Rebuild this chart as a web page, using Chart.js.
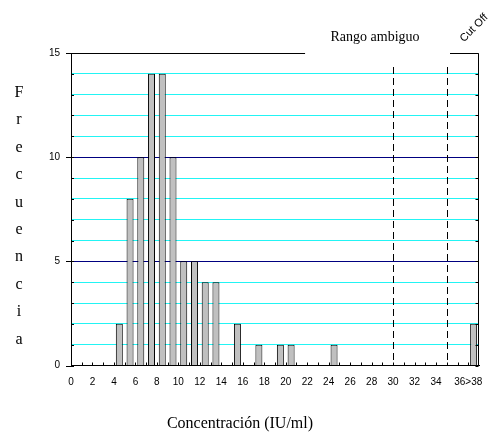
<!DOCTYPE html>
<html>
<head>
<meta charset="utf-8">
<script src="https://cdn.jsdelivr.net/npm/chart.js@4"></script>
<style>
  html, body { margin: 0; padding: 0; background: #fff; }
  #wrap { width: 488px; height: 434px; position: relative; }
</style>
</head>
<body>
<div id="wrap"><canvas id="grafico"></canvas></div>
<script>
// Clases (inicio de cada intervalo de 1 IU/ml) y frecuencias
const clases = [4, 5, 6, 7, 8, 9, 10, 11, 12, 13, 15, 17, 19, 20, 24, 37];
const frecuencias = [2, 8, 10, 14, 14, 10, 5, 5, 4, 4, 2, 1, 1, 1, 1, 2];

// Marcas del eje X y sus etiquetas
const marcasX = [0, 2, 4, 6, 8, 10, 12, 14, 16, 18, 20, 22, 24, 26, 28, 30, 32, 34, 37];
const etiquetasX = ['0', '2', '4', '6', '8', '10', '12', '14', '16', '18', '20', '22', '24', '26', '28', '30', '32', '34', '36>38'];

// Limites del rango ambiguo / cut off
const lineasCorte = [30, 35];
const tituloY = 'Frecuencia';
const tituloX = 'Concentración (IU/ml)';

const puntos = clases.map((c, i) => ({ x: c + 0.5, y: frecuencias[i] }));

const decoracion = {
    id: 'decoracion',
    afterDatasetsDraw(chart) {
        const ctx = chart.ctx;
        const x = chart.scales.x, y = chart.scales.y;
        const a = chart.chartArea;
        ctx.save();
        ctx.strokeStyle = '#000';
        ctx.lineWidth = 1;

        // lineas discontinuas
        ctx.setLineDash([7, 4]);
        lineasCorte.forEach(v => {
            const px = Math.round(x.getPixelForValue(v)) + 0.5;
            ctx.beginPath();
            ctx.moveTo(px, a.top + 14);
            ctx.lineTo(px, a.bottom);
            ctx.stroke();
        });
        ctx.setLineDash([]);

        // borde superior (con hueco para el texto) y borde derecho
        const top = Math.round(a.top) + 0.5;
        const right = Math.round(a.right) - 0.5;
        ctx.beginPath();
        ctx.moveTo(a.left, top);
        ctx.lineTo(x.getPixelForValue(21.8), top);
        ctx.moveTo(x.getPixelForValue(35.3), top);
        ctx.lineTo(right, top);
        ctx.lineTo(right, a.bottom);
        ctx.stroke();

        // marcas interiores del eje X
        for (let v = 1; v < 38; v++) {
            const px = Math.round(x.getPixelForValue(v)) + 0.5;
            ctx.beginPath();
            ctx.moveTo(px, a.bottom);
            ctx.lineTo(px, a.bottom - 3);
            ctx.stroke();
        }
        // marcas interiores izquierda/derecha y exteriores mayores
        for (let v = 0; v <= 15; v++) {
            const py = Math.round(y.getPixelForValue(v)) + 0.5;
            ctx.beginPath();
            ctx.moveTo(a.left, py);
            ctx.lineTo(a.left + 3, py);
            ctx.moveTo(right, py);
            ctx.lineTo(right - 3, py);
            if (v % 5 === 0) {
                ctx.moveTo(a.left - 5, py);
                ctx.lineTo(a.left, py);
            }
            ctx.stroke();
        }

        // textos
        ctx.fillStyle = '#000';
        ctx.textAlign = 'center';
        ctx.textBaseline = 'alphabetic';
        ctx.font = '14px "Liberation Serif", "Times New Roman", serif';
        ctx.fillText('Rango ambiguo', 375, 41);

        ctx.save();
        ctx.translate(474, 28);
        ctx.rotate(-Math.PI / 4);
        ctx.font = '11px "Liberation Sans", Arial, sans-serif';
        ctx.textBaseline = 'middle';
        ctx.fillText('Cut Off', 0, 0);
        ctx.restore();

        ctx.font = '16px "Liberation Serif", "Times New Roman", serif';
        tituloY.split('').forEach((letra, i) => {
            ctx.fillText(letra, 19, 97 + i * 27.4);
        });

        ctx.font = '16px "Liberation Serif", "Times New Roman", serif';
        ctx.fillText(tituloX, 240, 428);
        ctx.restore();
    }
};

new Chart(document.getElementById('grafico'), {
    type: 'bar',
    data: {
        datasets: [{
            data: puntos,
            backgroundColor: '#c0c0c0',
            borderColor: '#000',
            borderWidth: 1,
            borderSkipped: 'bottom',
            barPercentage: 0.65,
            categoryPercentage: 1
        }]
    },
    options: {
        responsive: true,
        maintainAspectRatio: false,
        animation: false,
        layout: { padding: { left: 0, top: 53, right: 9, bottom: 0 } },
        plugins: { legend: { display: false }, tooltip: { enabled: false } },
        scales: {
            x: {
                type: 'linear',
                min: 0,
                max: 38,
                offset: false,
                afterFit: s => {
                    s.height = 68.5;
                    s.paddingLeft = 0;
                    s.paddingRight = 0;
                },
                afterBuildTicks: s => { s.ticks = marcasX.map(v => ({ value: v })); },
                grid: { display: false, drawTicks: false, offset: false },
                border: { display: true, color: '#000', width: 1 },
                ticks: {
                    autoSkip: false,
                    maxRotation: 0,
                    padding: 11,
                    color: '#000',
                    font: { family: '"Liberation Sans", Arial, sans-serif', size: 10 },
                    callback: v => {
                        const i = marcasX.indexOf(v);
                        return i >= 0 ? etiquetasX[i] : '';
                    }
                }
            },
            y: {
                min: 0,
                max: 15,
                afterFit: s => {
                    s.width = 71;
                    s.paddingTop = 0;
                    s.paddingBottom = 0;
                },
                grid: {
                    drawTicks: false,
                    color: c => {
                        const v = c.tick.value;
                        if (v === 0 || v === 15) return 'rgba(0,0,0,0)';
                        return v % 5 === 0 ? '#000080' : '#22f4f4';
                    },
                    lineWidth: 1
                },
                border: { display: true, color: '#000', width: 1 },
                ticks: {
                    stepSize: 1,
                    padding: 11,
                    color: '#000',
                    font: { family: '"Liberation Sans", Arial, sans-serif', size: 10 },
                    callback: v => (v % 5 === 0 ? v : '')
                }
            }
        }
    },
    plugins: [decoracion]
});
</script>
</body>
</html>
